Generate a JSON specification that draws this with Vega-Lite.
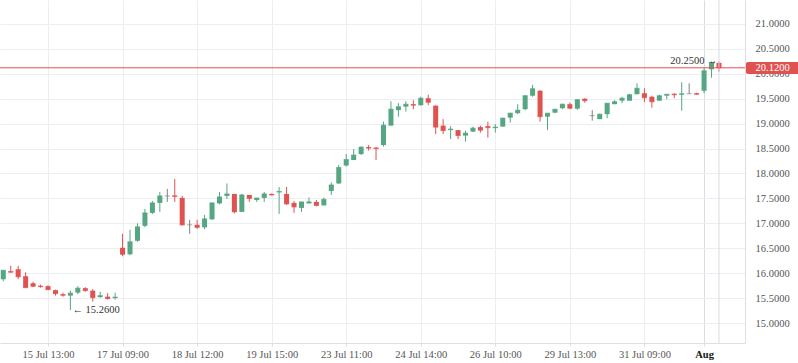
{
  "$schema": "https://vega.github.io/schema/vega-lite/v6.json",
  "width": 745,
  "height": 343,
  "autosize": {"type": "none"},
  "padding": {"left": 0, "top": 0, "right": 53, "bottom": 20},
  "background": "white",
  "config": {"view": {"stroke": null}, "font": "Liberation Serif", "axis": {"labelOverlap": false, "labelFlush": false}},
  "data": {"values": [
    {"i":0,"o":15.88,"h":16.06,"l":15.84,"c":16.06},
    {"i":1,"o":16.04,"h":16.15,"l":16.01,"c":16.02},
    {"i":2,"o":16.08,"h":16.15,"l":15.88,"c":15.93},
    {"i":3,"o":15.94,"h":16.02,"l":15.70,"c":15.71},
    {"i":4,"o":15.80,"h":15.83,"l":15.72,"c":15.74},
    {"i":5,"o":15.75,"h":15.77,"l":15.71,"c":15.73},
    {"i":6,"o":15.74,"h":15.76,"l":15.66,"c":15.67},
    {"i":7,"o":15.66,"h":15.67,"l":15.55,"c":15.59},
    {"i":8,"o":15.58,"h":15.61,"l":15.53,"c":15.56},
    {"i":9,"o":15.55,"h":15.65,"l":15.26,"c":15.60},
    {"i":10,"o":15.61,"h":15.74,"l":15.58,"c":15.70},
    {"i":11,"o":15.70,"h":15.72,"l":15.63,"c":15.65},
    {"i":12,"o":15.65,"h":15.68,"l":15.43,"c":15.51},
    {"i":13,"o":15.52,"h":15.63,"l":15.51,"c":15.55},
    {"i":14,"o":15.53,"h":15.60,"l":15.47,"c":15.49},
    {"i":15,"o":15.50,"h":15.61,"l":15.47,"c":15.52},
    {"i":16,"o":16.51,"h":16.79,"l":16.34,"c":16.38},
    {"i":17,"o":16.38,"h":16.87,"l":16.36,"c":16.63},
    {"i":18,"o":16.65,"h":17.00,"l":16.63,"c":16.93},
    {"i":19,"o":16.95,"h":17.29,"l":16.92,"c":17.21},
    {"i":20,"o":17.21,"h":17.45,"l":17.19,"c":17.41},
    {"i":21,"o":17.41,"h":17.63,"l":17.23,"c":17.55},
    {"i":22,"o":17.55,"h":17.69,"l":17.43,"c":17.55},
    {"i":23,"o":17.56,"h":17.89,"l":17.43,"c":17.54},
    {"i":24,"o":17.51,"h":17.55,"l":16.95,"c":16.97},
    {"i":25,"o":16.97,"h":17.07,"l":16.79,"c":16.97},
    {"i":26,"o":16.97,"h":17.07,"l":16.89,"c":16.92},
    {"i":27,"o":16.92,"h":17.17,"l":16.88,"c":17.09},
    {"i":28,"o":17.08,"h":17.42,"l":17.07,"c":17.41},
    {"i":29,"o":17.40,"h":17.63,"l":17.38,"c":17.53},
    {"i":30,"o":17.55,"h":17.80,"l":17.49,"c":17.59},
    {"i":31,"o":17.59,"h":17.59,"l":17.20,"c":17.23},
    {"i":32,"o":17.23,"h":17.59,"l":17.23,"c":17.57},
    {"i":33,"o":17.57,"h":17.57,"l":17.43,"c":17.50},
    {"i":34,"o":17.47,"h":17.51,"l":17.43,"c":17.51},
    {"i":35,"o":17.51,"h":17.63,"l":17.43,"c":17.59},
    {"i":36,"o":17.59,"h":17.60,"l":17.56,"c":17.57},
    {"i":37,"o":17.62,"h":17.73,"l":17.19,"c":17.64},
    {"i":38,"o":17.59,"h":17.73,"l":17.37,"c":17.39},
    {"i":39,"o":17.41,"h":17.45,"l":17.21,"c":17.33},
    {"i":40,"o":17.31,"h":17.43,"l":17.23,"c":17.43},
    {"i":41,"o":17.40,"h":17.52,"l":17.40,"c":17.43},
    {"i":42,"o":17.43,"h":17.47,"l":17.34,"c":17.36},
    {"i":43,"o":17.36,"h":17.52,"l":17.36,"c":17.48},
    {"i":44,"o":17.65,"h":17.82,"l":17.57,"c":17.77},
    {"i":45,"o":17.80,"h":18.17,"l":17.79,"c":18.12},
    {"i":46,"o":18.16,"h":18.39,"l":18.14,"c":18.28},
    {"i":47,"o":18.27,"h":18.49,"l":18.27,"c":18.37},
    {"i":48,"o":18.39,"h":18.54,"l":18.37,"c":18.53},
    {"i":49,"o":18.53,"h":18.57,"l":18.46,"c":18.51},
    {"i":50,"o":18.52,"h":18.53,"l":18.27,"c":18.50},
    {"i":51,"o":18.57,"h":19.04,"l":18.54,"c":18.97},
    {"i":52,"o":18.96,"h":19.45,"l":18.96,"c":19.29},
    {"i":53,"o":19.27,"h":19.41,"l":19.14,"c":19.34},
    {"i":54,"o":19.34,"h":19.45,"l":19.24,"c":19.39},
    {"i":55,"o":19.39,"h":19.47,"l":19.29,"c":19.37},
    {"i":56,"o":19.37,"h":19.54,"l":19.36,"c":19.51},
    {"i":57,"o":19.51,"h":19.58,"l":19.37,"c":19.43},
    {"i":58,"o":19.36,"h":19.37,"l":18.79,"c":18.93},
    {"i":59,"o":18.96,"h":19.09,"l":18.79,"c":18.86},
    {"i":60,"o":18.87,"h":18.95,"l":18.69,"c":18.89},
    {"i":61,"o":18.87,"h":18.87,"l":18.69,"c":18.76},
    {"i":62,"o":18.76,"h":18.86,"l":18.64,"c":18.81},
    {"i":63,"o":18.84,"h":18.94,"l":18.83,"c":18.91},
    {"i":64,"o":18.93,"h":18.96,"l":18.82,"c":18.87},
    {"i":65,"o":18.95,"h":19.04,"l":18.72,"c":18.92},
    {"i":66,"o":18.91,"h":18.99,"l":18.82,"c":18.93},
    {"i":67,"o":18.94,"h":19.12,"l":18.94,"c":19.11},
    {"i":68,"o":19.12,"h":19.22,"l":19.02,"c":19.21},
    {"i":69,"o":19.21,"h":19.39,"l":19.19,"c":19.27},
    {"i":70,"o":19.29,"h":19.57,"l":19.27,"c":19.56},
    {"i":71,"o":19.56,"h":19.78,"l":19.54,"c":19.70},
    {"i":72,"o":19.66,"h":19.67,"l":19.04,"c":19.14},
    {"i":73,"o":19.14,"h":19.21,"l":18.87,"c":19.21},
    {"i":74,"o":19.22,"h":19.29,"l":19.21,"c":19.29},
    {"i":75,"o":19.31,"h":19.40,"l":19.29,"c":19.39},
    {"i":76,"o":19.39,"h":19.42,"l":19.29,"c":19.31},
    {"i":77,"o":19.30,"h":19.49,"l":19.28,"c":19.48},
    {"i":78,"o":19.50,"h":19.51,"l":19.42,"c":19.46},
    {"i":79,"o":19.16,"h":19.27,"l":19.06,"c":19.16},
    {"i":80,"o":19.09,"h":19.20,"l":19.09,"c":19.19},
    {"i":81,"o":19.19,"h":19.41,"l":19.11,"c":19.41},
    {"i":82,"o":19.39,"h":19.47,"l":19.39,"c":19.44},
    {"i":83,"o":19.46,"h":19.54,"l":19.41,"c":19.51},
    {"i":84,"o":19.46,"h":19.60,"l":19.46,"c":19.58},
    {"i":85,"o":19.59,"h":19.81,"l":19.59,"c":19.71},
    {"i":86,"o":19.61,"h":19.71,"l":19.43,"c":19.52},
    {"i":87,"o":19.54,"h":19.56,"l":19.32,"c":19.44},
    {"i":88,"o":19.46,"h":19.58,"l":19.46,"c":19.56},
    {"i":89,"o":19.56,"h":19.59,"l":19.49,"c":19.59},
    {"i":90,"o":19.60,"h":19.61,"l":19.51,"c":19.58},
    {"i":91,"o":19.58,"h":19.83,"l":19.26,"c":19.60},
    {"i":92,"o":19.60,"h":19.81,"l":19.60,"c":19.60},
    {"i":93,"o":19.61,"h":19.62,"l":19.58,"c":19.59},
    {"i":94,"o":19.66,"h":20.11,"l":19.61,"c":20.06},
    {"i":95,"o":20.09,"h":20.25,"l":19.92,"c":20.22},
    {"i":96,"o":20.22,"h":20.25,"l":20.04,"c":20.12}
  ]},
  "layer": [
    {
      "mark": {"type": "rule", "strokeWidth": 1},
      "encoding": {
        "x": {
          "field": "i", "type": "quantitative",
          "scale": {"domain": [-0.44, 99.49], "nice": false, "zero": false, "padding": 0},
          "axis": {
            "orient": "bottom", "title": null,
            "values": [6, 16, 26, 36, 46, 56, 66, 76, 86, 94],
            "tickCount": 40,
            "labelExpr": "['15 Jul 13:00','17 Jul 09:00','18 Jul 12:00','19 Jul 15:00','23 Jul 11:00','24 Jul 14:00','26 Jul 10:00','29 Jul 13:00','31 Jul 09:00','Aug'][indexof([6,16,26,36,46,56,66,76,86,94], datum.value)]",
            "labelFontSize": 10.5,
            "labelFont": "Liberation Serif",
            "labelColor": {"condition": {"test": "datum.value == 94", "value": "#111111"}, "value": "#555555"},
            "labelFontWeight": {"condition": {"test": "datum.value == 94", "value": "bold"}, "value": "normal"},
            "labelPadding": 3,
            "labelFlush": false,
            "labelOverlap": false,
            "grid": true,
            "gridColor": {"condition": {"test": "datum.value == 94", "value": "#d9dce1"}, "value": "#eceef2"},
            "domainColor": "#dcdfe4",
            "tickColor": "#dcdfe4",
            "tickSize": 3
          }
        },
        "y": {
          "field": "l", "type": "quantitative",
          "scale": {"domain": [14.6, 21.48], "nice": false, "zero": false, "padding": 0},
          "axis": {
            "orient": "right", "title": null,
            "values": [15, 15.5, 16, 16.5, 17, 17.5, 18, 18.5, 19, 19.5, 20, 20.5, 21],
            "tickCount": 40,
            "labelExpr": "format(datum.value, '.4f')",
            "labelFontSize": 10.5,
            "labelFont": "Liberation Serif",
            "labelColor": "#555555",
            "labelPadding": 10,
            "labelOverlap": false,
            "labelFlush": false,
            "tickSize": 0,
            "grid": true,
            "gridColor": "#eceef2",
            "domainColor": "#dcdfe4"
          }
        },
        "y2": {"field": "h"},
        "color": {
          "condition": [
            {"test": "datum.c > datum.o", "value": "#55a682"},
            {"test": "datum.c < datum.o", "value": "#e0524f"}
          ],
          "value": "#808080"
        }
      }
    },
    {
      "mark": {"type": "bar", "size": 5},
      "encoding": {
        "x": {"field": "i", "type": "quantitative"},
        "y": {"field": "o", "type": "quantitative"},
        "y2": {"field": "c"},
        "color": {
          "condition": [
            {"test": "datum.c > datum.o", "value": "#55a682"},
            {"test": "datum.c < datum.o", "value": "#e0524f"}
          ],
          "value": "#808080"
        }
      }
    },
    {
      "mark": {"type": "tick", "orient": "horizontal", "size": 5, "thickness": 1},
      "encoding": {
        "x": {"field": "i", "type": "quantitative"},
        "y": {"field": "c", "type": "quantitative"},
        "color": {
          "condition": [
            {"test": "datum.c > datum.o", "value": "#55a682"},
            {"test": "datum.c < datum.o", "value": "#e0524f"}
          ],
          "value": "#808080"
        }
      }
    },
    {
      "data": {"values": [{"v": 96}]},
      "mark": {"type": "rule", "color": "#d9dce1", "strokeWidth": 1},
      "encoding": {"x": {"field": "v", "type": "quantitative"}}
    },
    {
      "data": {"values": [{"p": 20.12}]},
      "mark": {"type": "rule", "color": "#e0524f", "strokeWidth": 1},
      "encoding": {"y": {"field": "p", "type": "quantitative"}}
    },
    {
      "data": {"values": [{"x1": 99.62, "x2": 106.8, "y1": 20.236, "y2": 19.996}]},
      "mark": {"type": "rect", "color": "#e0524f", "cornerRadius": 2, "clip": false},
      "encoding": {
        "x": {"field": "x1", "type": "quantitative"},
        "x2": {"field": "x2"},
        "y": {"field": "y1", "type": "quantitative"},
        "y2": {"field": "y2"}
      }
    },
    {
      "data": {"values": [{"x": 103.2, "p": 20.12, "t": "20.1200"}]},
      "mark": {"type": "text", "color": "white", "fontSize": 10.5, "font": "Liberation Serif", "align": "center", "baseline": "middle", "clip": false},
      "encoding": {
        "x": {"field": "x", "type": "quantitative"},
        "y": {"field": "p", "type": "quantitative"},
        "text": {"field": "t"}
      }
    },
    {
      "data": {"values": [{"x": 95, "p": 20.25, "t": "20.2500 →"}]},
      "mark": {"type": "text", "color": "#333333", "fontSize": 10.5, "font": "Liberation Serif", "align": "right", "baseline": "middle", "dx": 6},
      "encoding": {
        "x": {"field": "x", "type": "quantitative"},
        "y": {"field": "p", "type": "quantitative"},
        "text": {"field": "t"}
      }
    },
    {
      "data": {"values": [{"x": 9, "p": 15.26, "t": "← 15.2600"}]},
      "mark": {"type": "text", "color": "#333333", "fontSize": 10.5, "font": "Liberation Serif", "align": "left", "baseline": "middle", "dx": 2},
      "encoding": {
        "x": {"field": "x", "type": "quantitative"},
        "y": {"field": "p", "type": "quantitative"},
        "text": {"field": "t"}
      }
    }
  ]
}
